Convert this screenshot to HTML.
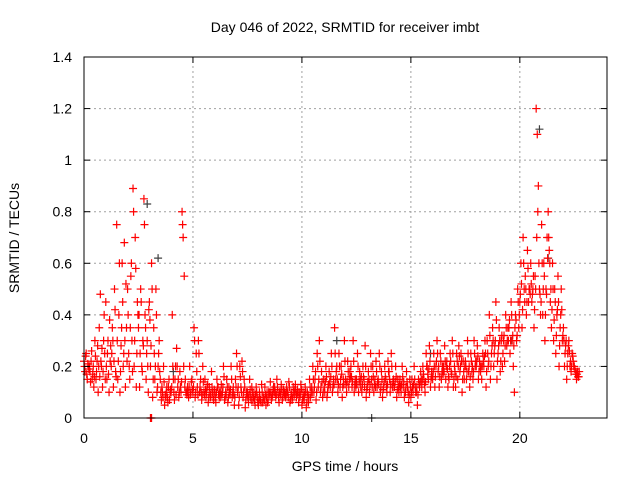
<!DOCTYPE html>
<html><head><meta charset="utf-8"><style>
html,body{margin:0;padding:0;background:#fff;}
svg{display:block;font-family:"Liberation Sans",sans-serif;}
</style></head><body>
<svg id="chart" width="640" height="480">
<text x="345" y="32" text-anchor="middle" font-size="14">Day 046 of 2022, SRMTID for receiver imbt</text>
<text x="345" y="471" text-anchor="middle" font-size="14">GPS time / hours</text>
<text x="19" y="238" text-anchor="middle" font-size="14" transform="rotate(-90 19 238)">SRMTID / TECUs</text>
<g id="grid"></g>
<g id="gray"></g>
<g id="red"></g>
<rect x="84" y="57" width="523" height="361" fill="none" stroke="#000" stroke-width="1"/>
<g id="ticks"></g>
</svg>
<script>
const xTicks=[0,5,10,15,20];
const yTicks=[0,0.2,0.4,0.6,0.8,1,1.2,1.4];
const yTickLabels=["0","0.2","0.4","0.6","0.8","1","1.2","1.4"];
const slotWidth=0.25;
const redSlots=[
[.22,.18,.25,.15,.2],[.2,.14,.26,.17,.12],[.3,.15,.22,.1,.35],[.48,.2,.12,.3,.25],
[.45,.15,.3,.1,.22],[.2,.35,.12,.5,.18],[.75,.15,.4,.1,.28],[.6,.2,.68,.12,.35],
[.5,.25,.15,.55,.3],[.89,.2,.7,.12,.45],[.35,.12,.5,.2,.3],[.85,.4,.15,.3,.1],
[.45,.2,.6,.08,.35],[.15,.5,.1,.2,.3],[.15,.07,.1,.2,.05],[.08,.12,.06,.15,.1],
[.1,.4,.15,.07,.2],[.27,.12,.08,.18,.1],[.8,.7,.55,.15,.1],[.12,.08,.2,.1,.15],
[.1,.35,.08,.25,.12],[.3,.1,.15,.07,.2],[.1,.15,.08,.12,.06],[.12,.08,.18,.1,.07],
[.1,.06,.15,.12,.08],[.08,.13,.1,.2,.07],[.1,.15,.06,.12,.09],[.2,.08,.12,.05,.15],
[.25,.1,.05,.2,.12],[.22,.08,.15,.04,.1],[.1,.06,.15,.08,.12],[.07,.1,.05,.12,.08],
[.05,.1,.07,.13,.06],[.08,.12,.05,.1,.07],[.1,.14,.07,.09,.12],[.12,.08,.15,.1,.06],
[.1,.13,.07,.11,.09],[.08,.12,.1,.14,.06],[.1,.07,.12,.09,.13],[.08,.11,.06,.1,.13],
[.05,.1,.07,.12,.04],[.1,.06,.15,.08,.12],[.2,.1,.15,.07,.25],[.12,.3,.1,.18,.08],
[.15,.1,.2,.08,.12],[.18,.12,.25,.1,.15],[.35,.15,.2,.1,.25],[.12,.2,.08,.15,.3],
[.15,.1,.22,.12,.18],[.2,.12,.3,.1,.15],[.15,.25,.1,.18,.12],[.1,.2,.15,.28,.08],
[.12,.18,.1,.25,.15],[.2,.1,.15,.22,.12],[.15,.25,.1,.18,.08],[.12,.2,.15,.1,.22],
[.18,.1,.25,.12,.15],[.12,.2,.08,.15,.1],[.15,.1,.2,.12,.08],[.1,.18,.12,.06,.15],
[.08,.15,.1,.2,.12],[.1,.05,.15,.12,.18],[.12,.2,.15,.1,.25],[.2,.15,.28,.12,.18],
[.15,.25,.12,.2,.3],[.18,.12,.25,.15,.2],[.2,.28,.15,.22,.12],[.15,.25,.18,.3,.12],
[.2,.12,.25,.15,.28],[.18,.25,.1,.22,.15],[.22,.15,.3,.18,.12],[.25,.18,.15,.3,.2],
[.2,.28,.15,.22,.18],[.15,.25,.2,.3,.12],[.3,.2,.4,.15,.25],[.35,.2,.28,.45,.15],
[.25,.35,.18,.3,.2],[.3,.22,.4,.28,.35],[.35,.25,.45,.3,.2],[.1,.4,.3,.5,.35],
[.45,.6,.35,.7,.5],[.55,.4,.65,.45,.5],[.6,.45,.5,.35,.55],[1.2,1.1,.9,.5,.4],
[.75,.4,.6,.3,.5],[.7,.8,.65,.45,.35],[.6,.3,.5,.25,.4],[.55,.2,.35,.5,.3],
[.35,.2,.28,.15,.25],[.3,.2,.18,.25,.22],[.2,.17,.15,.18,.16]
];
const redSlotsCore=[
[.2,.24,.17,.21,.19],[.18,.22,.15,.2,.16],[.24,.18,.28,.2,.16],[.22,.27,.18,.4,.15],
[.2,.25,.17,.38,.28],[.25,.3,.22,.42,.16],[.3,.22,.6,.18,.35],[.45,.25,.3,.52,.22],
[.4,.2,.35,.6,.18],[.8,.3,.58,.25,.4],[.4,.25,.45,.18,.28],[.75,.35,.25,.2,.42],
[.38,.28,.5,.15,.25],[.2,.4,.12,.25,.18],[.1,.12,.08,.14,.09],[.1,.08,.12,.07,.11],
[.12,.2,.1,.15,.09],[.2,.15,.1,.12,.14],[.75,.2,.12,.1,.09],[.1,.12,.09,.14,.11],
[.12,.3,.1,.18,.09],[.25,.12,.1,.09,.14],[.09,.11,.1,.13,.08],[.1,.09,.12,.08,.11],
[.08,.1,.12,.09,.1],[.1,.09,.12,.16,.08],[.09,.12,.08,.1,.11],[.15,.1,.09,.08,.12],
[.2,.12,.08,.16,.1],[.18,.1,.12,.07,.09],[.08,.09,.11,.07,.1],[.08,.07,.09,.1,.06],
[.07,.08,.06,.1,.08],[.07,.09,.08,.06,.1],[.09,.1,.08,.11,.1],[.1,.09,.12,.08,.1],
[.09,.11,.08,.1,.1],[.09,.1,.08,.12,.07],[.09,.08,.1,.11,.1],[.09,.1,.08,.09,.11],
[.07,.08,.09,.1,.06],[.09,.08,.12,.1,.1],[.15,.12,.18,.1,.2],[.15,.22,.12,.14,.1],
[.12,.14,.16,.1,.13],[.14,.16,.2,.12,.13],[.25,.18,.15,.13,.2],[.15,.17,.12,.13,.22],
[.13,.14,.18,.15,.16],[.16,.14,.22,.13,.12],[.13,.2,.14,.15,.16],[.13,.16,.12,.2,.11],
[.14,.15,.13,.2,.12],[.16,.13,.12,.18,.14],[.13,.2,.12,.15,.11],[.14,.16,.12,.13,.18],
[.15,.13,.2,.14,.12],[.14,.16,.11,.12,.13],[.12,.13,.16,.14,.1],[.12,.14,.1,.09,.12],
[.1,.12,.13,.15,.1],[.12,.09,.13,.14,.15],[.15,.17,.13,.14,.2],[.17,.19,.22,.15,.16],
[.18,.2,.16,.22,.25],[.2,.16,.22,.18,.17],[.18,.22,.2,.19,.16],[.2,.22,.17,.25,.15],
[.18,.16,.22,.2,.24],[.2,.22,.15,.18,.2],[.2,.18,.25,.2,.16],[.22,.2,.18,.25,.22],
[.22,.24,.18,.2,.2],[.2,.22,.24,.25,.18],[.25,.22,.32,.2,.28],[.3,.25,.3,.38,.22],
[.28,.3,.22,.32,.25],[.32,.28,.35,.3,.3],[.38,.3,.4,.32,.28],[.35,.38,.32,.45,.4],
[.48,.52,.42,.6,.45],[.5,.45,.58,.5,.48],[.52,.48,.55,.42,.5],[.7,.8,.6,.48,.45],
[.6,.5,.55,.4,.48],[.62,.7,.6,.5,.42],[.5,.38,.45,.32,.42],[.45,.28,.4,.42,.32],
[.3,.25,.3,.2,.28],[.26,.22,.2,.24,.2],[.19,.18,.17,.16,.18]
];
const grayTimes=[2.9,3.4,4.1,11.6,13.2,15.9,19.6,20.9,21.3];
const grayValues=[0.83,0.62,0.18,0.3,0.0,0.25,0.3,1.12,0.62];
const redZeroTimes=[3.05,3.1];

const X0=84,X1=607,Y0=418,Y1=57,XMAX=24,YMAX=1.4;
const xs=t=>X0+(X1-X0)*t/XMAX;
const ys=v=>Y0-(Y0-Y1)*v/YMAX;
const NS="http://www.w3.org/2000/svg";
const grid=document.getElementById('grid'),ticks=document.getElementById('ticks');
function ln(g,x1,y1,x2,y2,st,dash){const l=document.createElementNS(NS,'line');
l.setAttribute('x1',x1);l.setAttribute('y1',y1);l.setAttribute('x2',x2);l.setAttribute('y2',y2);
l.setAttribute('stroke',st);if(dash)l.setAttribute('stroke-dasharray',dash);g.appendChild(l);return l;}
function tx(g,x,y,s,a){const t=document.createElementNS(NS,'text');t.setAttribute('x',x);t.setAttribute('y',y);
t.setAttribute('text-anchor',a);t.setAttribute('font-size','14');t.textContent=s;g.appendChild(t);return t;}
xTicks.forEach(v=>{const x=xs(v);
 if(v>0){const g1=ln(grid,x,Y0,x,Y1,'#a0a0a0','2,3');
 
 }
 ln(ticks,x,Y0,x,Y0-6,'#000');ln(ticks,x,Y1,x,Y1+6,'#000');
 const t=tx(ticks,x,443,String(v),'middle');
 
 });
yTicks.forEach((v,i)=>{const y=ys(v);
 if(v>0&&v<YMAX){const g1=ln(grid,X0,y,X1,y,'#a0a0a0','2,3');
 
 }
 ln(ticks,X0,y,X0+6,y,'#000');ln(ticks,X1,y,X1-6,y,'#000');
 const t=tx(ticks,72,y+5,yTickLabels[i],'end');
 
 });
function plus(g,t,v,col){const x=xs(t),y=ys(v);const p=document.createElementNS(NS,'path');
 p.setAttribute('d',`M${x-4},${y}H${x+4}M${x},${y-4}V${y+4}`);
 p.setAttribute('stroke',col);p.setAttribute('stroke-width','1.2');
 
 
 g.appendChild(p);}
const gg=document.getElementById('gray'),rg=document.getElementById('red');
grayTimes.forEach((t,i)=>plus(gg,t,grayValues[i],'#404040'));
redSlots.forEach((vals,s)=>vals.forEach((v,j)=>plus(rg,s*slotWidth+j*slotWidth/vals.length,v,'#ff0000')));
redSlotsCore.forEach((vals,s)=>vals.forEach((v,j)=>plus(rg,s*slotWidth+(j+0.5)*slotWidth/vals.length,v,'#ff0000')));
redZeroTimes.forEach(t=>plus(rg,t,0,'#ff0000'));
</script>
</body></html>
